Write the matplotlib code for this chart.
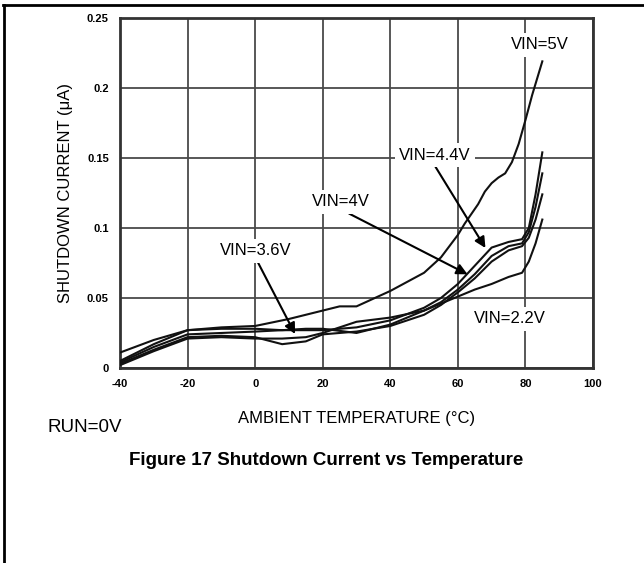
import matplotlib
matplotlib.use("Agg")
import matplotlib.pyplot as plt
from matplotlib.lines import Line2D

plt.rcParams['font.family'] = ['Liberation Sans', 'DejaVu Sans']
plt.rcParams['axes.unicode_minus'] = False

# temperatures (C) and shutdown current (uA)
temp_5v = [-40, -30, -20, -10, 0, 10, 20, 25, 30, 40, 50, 55, 60, 62, 64, 66, 68, 70,
           72, 74, 76, 78, 80, 82, 85]
cur_5v = [0.011, 0.020, 0.027, 0.029, 0.030, 0.035, 0.041, 0.044, 0.044, 0.055, 0.068,
          0.079, 0.095, 0.103, 0.110, 0.117, 0.126, 0.132, 0.136, 0.139, 0.147, 0.160,
          0.177, 0.195, 0.219]

temp_rest = [-40, -30, -20, -10, 0, 8, 15, 20, 30, 40, 50, 55, 60, 65, 70, 75, 79, 81, 83, 85]
cur_44v = [0.005, 0.017, 0.027, 0.028, 0.028, 0.027, 0.027, 0.027, 0.029, 0.034, 0.043,
           0.050, 0.060, 0.073, 0.086, 0.090, 0.092, 0.100, 0.124, 0.154]
cur_4v = [0.004, 0.015, 0.024, 0.025, 0.026, 0.027, 0.028, 0.028, 0.025, 0.031, 0.041,
          0.047, 0.056, 0.067, 0.080, 0.087, 0.089, 0.097, 0.115, 0.139]
cur_36v = [0.003, 0.013, 0.022, 0.023, 0.022, 0.017, 0.019, 0.024, 0.026, 0.030, 0.038,
           0.045, 0.054, 0.064, 0.076, 0.084, 0.087, 0.093, 0.106, 0.124]
cur_22v = [0.002, 0.012, 0.021, 0.022, 0.021, 0.021, 0.022, 0.025, 0.033, 0.036, 0.041,
           0.046, 0.051, 0.056, 0.060, 0.065, 0.068, 0.076, 0.089, 0.106]

x_ticks = [-40, -20, 0, 20, 40, 60, 80, 100]
y_ticks = [0, 0.05, 0.1, 0.15, 0.2, 0.25]
y_tick_labels = ['0', '0.05', '0.1', '0.15', '0.2', '0.25']

fig = plt.figure(figsize=(6.44, 5.63), dpi=100)
ax = fig.add_axes([0.1863, 0.3464, 0.7345, 0.6217])

# page frame (top and left edges)
fig.add_artist(Line2D([0.005, 1.0], [0.991, 0.991], color='black', lw=2))
fig.add_artist(Line2D([0.006, 0.006], [0.0, 0.991], color='black', lw=2))

for t, c in [(temp_5v, cur_5v), (temp_rest, cur_44v), (temp_rest, cur_4v),
             (temp_rest, cur_36v), (temp_rest, cur_22v)]:
    ax.plot(t, c, color='#111111', lw=1.5, zorder=3)

ax.set_xlim(-40, 100)
ax.set_ylim(0, 0.25)
ax.set_xticks(x_ticks)
ax.set_yticks(y_ticks)
ax.set_yticklabels(y_tick_labels)
ax.tick_params(length=0, labelsize=8, pad=8)
for lbl in ax.get_xticklabels() + ax.get_yticklabels():
    lbl.set_fontweight('bold')
ax.grid(True, color='#4a4a4a', lw=1.3)
ax.set_axisbelow(True)
for s in ax.spines.values():
    s.set_color('#333333')
    s.set_linewidth(2)

box = dict(facecolor='white', edgecolor='none', pad=3)
ax.text(84.3, 0.2307, 'VIN=5V', fontsize=12, ha='center', va='center', bbox=box, zorder=4)
ax.text(75.4, 0.035, 'VIN=2.2V', fontsize=12, ha='center', va='center', bbox=box, zorder=4)

arrow = dict(arrowstyle='-|>', color='black', lw=1.5, mutation_scale=16)
ax.annotate('VIN=4.4V', xy=(68.6, 0.084), xytext=(53.2, 0.152), fontsize=12,
            ha='center', va='center', bbox=box, zorder=4,
            arrowprops=dict(arrow, shrinkA=0, relpos=(0.46, 0.1)))
ax.annotate('VIN=4V', xy=(63.6, 0.066), xytext=(25.4, 0.1186), fontsize=12,
            ha='center', va='center', bbox=box, zorder=4,
            arrowprops=dict(arrow, shrinkA=0, relpos=(0.45, 0.1)))
ax.annotate('VIN=3.6V', xy=(12.2, 0.0225), xytext=(0.2, 0.0836), fontsize=12,
            ha='center', va='center', bbox=box, zorder=4,
            arrowprops=dict(arrow, shrinkA=0, relpos=(0.49, 0.1)))

ax.set_ylabel('SHUTDOWN CURRENT (μA)', fontsize=12, labelpad=10)
fig.text(0.553, 0.257, 'AMBIENT TEMPERATURE (°C)', fontsize=12, ha='center', va='center')
fig.text(0.073, 0.241, 'RUN=0V', fontsize=13.5, ha='left', va='center')
fig.text(0.507, 0.182, 'Figure 17 Shutdown Current vs Temperature', fontsize=13.5,
         fontweight='bold', ha='center', va='center')

fig.savefig('out.png', dpi=100)
